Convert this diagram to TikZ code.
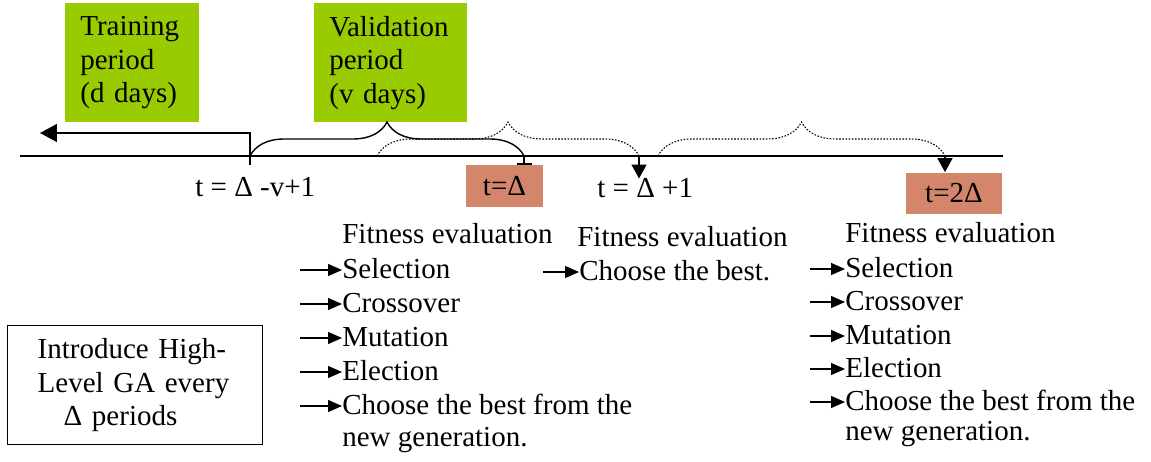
\documentclass[tikz,border=0pt]{standalone}
\usepackage{fontspec}
\setmainfont{Liberation Serif}
\usepackage{xcolor}
\usetikzlibrary{arrows.meta,positioning,calc,decorations.pathreplacing}
\definecolor{periodgreen}{RGB}{153,204,0}
\definecolor{datepink}{RGB}{212,134,108}

\begin{document}
\begin{tikzpicture}[x=0.02cm, y=-0.02cm,
    font=\fontsize{16.5}{19}\selectfont,
    greenbox/.style={rectangle, fill=periodgreen, anchor=north west, align=left, inner xsep=0.3cm, minimum height=2.38cm},
    datebox/.style={rectangle, fill=datepink, minimum height=0.84cm},
    infobox/.style={rectangle, draw, line width=0.8pt, anchor=north west, align=left, text width=3.9cm, inner xsep=0.6cm, minimum height=2.38cm},
    item/.style={anchor=base west, inner sep=0pt},
    tip/.style={-{Triangle[length=0.28cm, width=0.24cm]}, line width=0.7pt},
    downarrow/.style={-{Triangle[length=0.28cm, width=0.3cm]}, line width=0.8pt},
    solidbrace/.style={decorate, decoration={brace, amplitude=0.68cm}, line width=0.8pt},
    dotbrace/.style={decorate, decoration={brace, amplitude=0.68cm}, dash pattern=on 0.9pt off 0.9pt, line width=0.6pt}
]
    \useasboundingbox (0,0) rectangle (1151,462);

    % time line
    \coordinate (lineL) at (20,156);
    \coordinate (lineR) at (1003,156);
    \draw[line width=0.8pt] (lineL) -- (lineR);

    % periods
    \node[greenbox, text width=2.08cm] (train) at (65,3) {Training\\period\\(d days)};
    \node[greenbox, text width=2.46cm] (valid) at (314,3) {Validation\\period\\(v days)};

    % back in time
    \coordinate (vstart) at (250,165);
    \coordinate (back) at (40,133);
    \draw[-{Triangle[length=0.34cm, width=0.36cm]}, line width=0.8pt] (vstart) |- (back);

    % braces
    \coordinate (b0) at (250,156);
    \coordinate (b1) at (524,156);
    \coordinate (d0) at (377,156);
    \coordinate (d1) at (639,156);
    \coordinate (e0) at (658,156);
    \coordinate (e1) at (945,156);
    \draw[solidbrace] (b0) -- (b1);
    \draw[dotbrace] (d0) -- (d1);
    \draw[dotbrace] (e0) -- (e1);

    % dates
    \node[datebox, minimum width=1.54cm] (tD) at (504.5,186) {t=Δ};
    \node[datebox, minimum width=1.92cm] (t2D) at (954,193.5) {t=2Δ};
    \node[item] (tstart) at (195,197) {t = Δ -v+1};
    \node[item] (tnext) at (597,198) {t = Δ +1};
    \draw[-{Bar[width=0.3cm]}, line width=0.8pt] (b1) -- (b1 |- tD.north);
    \draw[downarrow] (d1) -- (d1 |- tnext.north);
    \draw[downarrow] (e1) -- (e1 |- t2D.north);

    % first step
    \node[item] (fit1) at (342,244) {Fitness evaluation};
    \foreach \nm/\txt/\yy in {sel/Selection/278, cro/Crossover/312, mut/Mutation/346, ele/Election/380, best/Choose the best from the/414} {
        \node[item] (\nm1) at (342,\yy) {\txt};
        \coordinate (\nm1a) at (300,\yy-8);
        \draw[tip] (\nm1a) -- (\nm1a -| \nm1.west);
    }
    \node[item] (new1) at (342,446) {new generation.};

    % second step
    \node[item] (fit2) at (577,247) {Fitness evaluation};
    \node[item] (best2) at (579,280) {Choose the best.};
    \coordinate (best2a) at (543,272);
    \draw[tip] (best2a) -- (best2a -| best2.west);

    % third step
    \node[item] (fit3) at (845,243) {Fitness evaluation};
    \foreach \nm/\txt/\yy in {sel/Selection/277, cro/Crossover/310, mut/Mutation/344, ele/Election/377, best/Choose the best from the/410} {
        \node[item] (\nm3) at (845,\yy) {\txt};
        \coordinate (\nm3a) at (810,\yy-8);
        \draw[tip] (\nm3a) -- (\nm3a -| \nm3.west);
    }
    \node[item] (new3) at (845,440) {new generation.};

    % note
    \node[infobox] (note) at (7,325) {Introduce High-\\Level GA every\\\hspace*{0.52cm}Δ periods};
\end{tikzpicture}
\end{document}
